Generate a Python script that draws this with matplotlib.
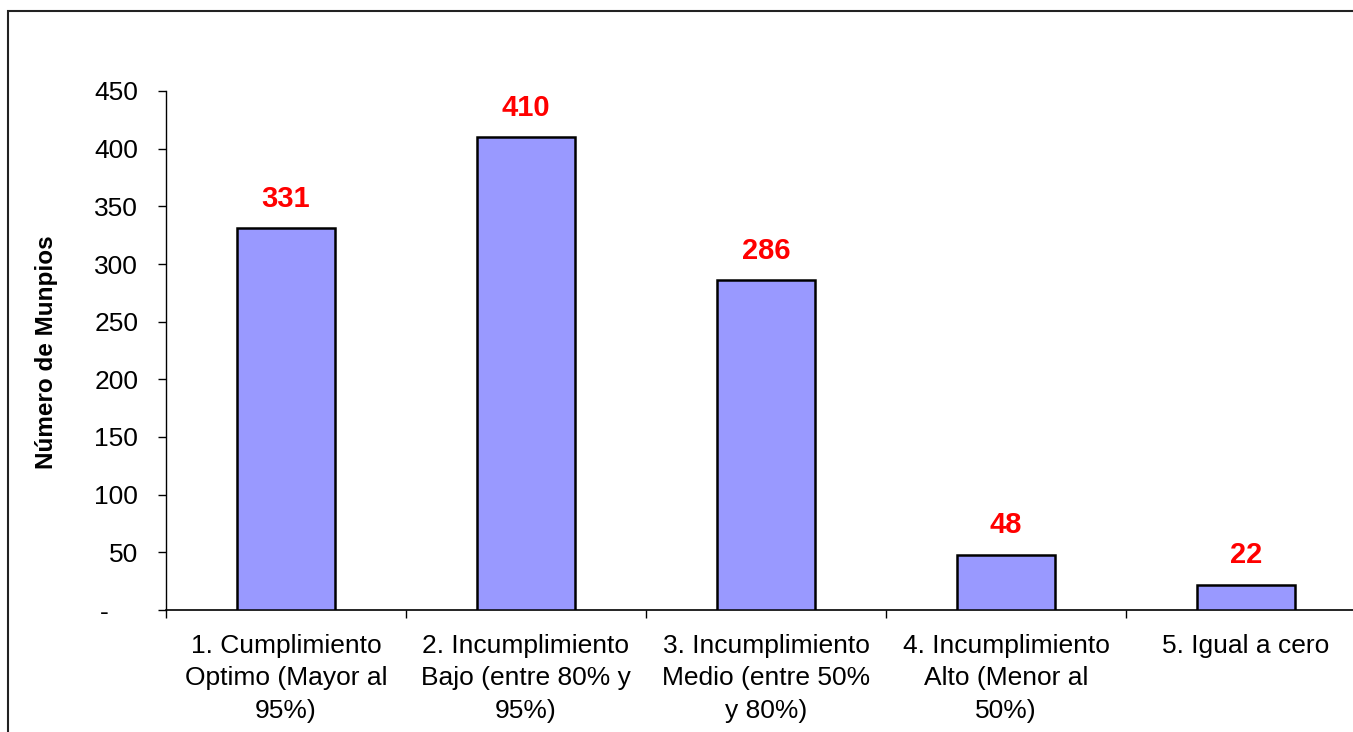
import matplotlib
matplotlib.use("Agg")
import matplotlib.pyplot as plt
from matplotlib.patches import Rectangle
from matplotlib.ticker import FuncFormatter

categories = [
    "1. Cumplimiento\nOptimo (Mayor al\n95%)",
    "2. Incumplimiento\nBajo (entre 80% y\n95%)",
    "3. Incumplimiento\nMedio (entre 50%\ny 80%)",
    "4. Incumplimiento\nAlto (Menor al\n50%)",
    "5. Igual a cero",
]
values = [331, 410, 286, 48, 22]
yticks = [0, 50, 100, 150, 200, 250, 300, 350, 400, 450]
ylabel = "Número de Munpios"

plt.rcParams['font.family'] = ['Liberation Sans', 'DejaVu Sans']

W, H = 1353, 732
fig = plt.figure(figsize=(W / 100, H / 100), dpi=100)
fig.patch.set_facecolor("white")

# outer frame (chart area border, partially cropped)
fig.patches.append(Rectangle((8 / W, -0.05), 1.2, 1 - 11 / H + 0.05,
                             transform=fig.transFigure, fill=False,
                             edgecolor="#222222", linewidth=1.5))

left, right = 166 / W, 1366 / W
bottom, top = 1 - 610 / H, 1 - 91 / H
ax = fig.add_axes([left, bottom, right - left, top - bottom])

x = list(range(len(values)))
bars = ax.bar(x, values, width=0.41, color="#9999FF", edgecolor="black",
              linewidth=1.8, zorder=3)
for xi, v in zip(x, values):
    ax.annotate(str(v), (xi, v), xytext=(0, 11), textcoords="offset points",
                ha="center", va="bottom", color="#FF0000",
                fontsize=21, fontweight="bold")

ax.set_xlim(-0.5, len(values) - 0.5)
ax.set_ylim(0, 450)
ax.set_yticks(yticks)
ax.yaxis.set_major_formatter(FuncFormatter(lambda v, p: "-    " if v == 0 else f"{int(v)}"))
ax.tick_params(axis="y", labelsize=19, length=6, width=1, pad=14, direction="out")
ax.set_xticks(x)
ax.set_xticklabels(categories, fontsize=19, linespacing=1.45)
ax.set_xticks([i + 0.5 for i in range(-1, len(values))], minor=True)
ax.tick_params(axis="x", which="major", length=0, pad=17)
ax.tick_params(axis="x", which="minor", length=6, width=1)

for s in ["top", "right"]:
    ax.spines[s].set_visible(False)
ax.spines["left"].set_linewidth(1)
ax.spines["bottom"].set_linewidth(1.2)

ax.set_ylabel(ylabel, fontsize=17.5, fontweight="bold")
ax.yaxis.set_label_coords(-(166 - 58) / 1200, (610 - 352) / (610 - 91))

fig.savefig("out.png", dpi=100)
